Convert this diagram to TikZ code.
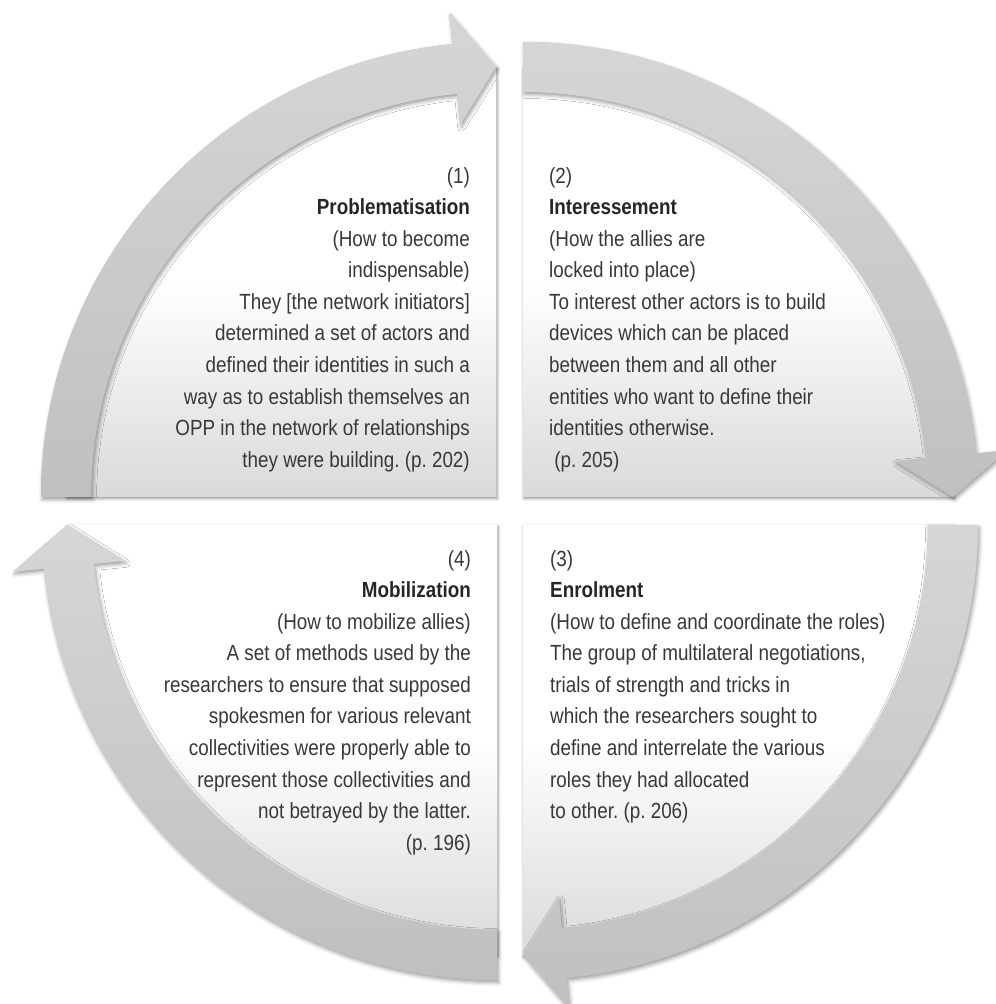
\documentclass[tikz,border=0pt]{standalone}
\usepackage{fontspec}
\setmainfont{Liberation Sans}[FakeStretch=0.86]
\usetikzlibrary{shadows.blur}

\definecolor{panelgray}{HTML}{DADADA}
\definecolor{arrowtop}{HTML}{D6D6D6}
\definecolor{arrowbot}{HTML}{C0C0C0}
\definecolor{textgray}{HTML}{383838}

% quarter-turn arrow round a corner: #1 centre, #2 start angle (runs clockwise)
\newcommand\ringarrow[2]{%
  \begin{scope}[shift={(#1)}]
    \pgfmathsetmacro\tipangle{#2-90}
    \pgfmathsetmacro\baseangle{#2-90+5.5}
    \path[arrowfill] (#2:455) arc[start angle=#2, end angle=\baseangle, radius=455]
      -- (\baseangle:486) -- (\tipangle:430) -- (\baseangle:374) -- (\baseangle:405)
      arc[start angle=\baseangle, end angle=#2, radius=405] -- cycle;
  \end{scope}}

\begin{document}
\frenchspacing
\begin{tikzpicture}[x=1bp,y=1bp,
    panel/.style={fill=white,
      blur shadow={shadow xshift=1pt, shadow yshift=-1.5pt, shadow blur radius=3pt, shadow opacity=45},
      postaction={top color=white, bottom color=panelgray, middle color=white}},
    arrowfill/.style={fill=arrowbot,
      blur shadow={shadow xshift=1.5pt, shadow yshift=-2.5pt, shadow blur radius=4pt, shadow opacity=40},
      postaction={top color=arrowtop, bottom color=arrowbot}},
    stagetext/.style={font=\fontsize{22}{31.7}\selectfont, text=textgray, inner sep=0pt}]
  \useasboundingbox (0,0) rectangle (996,1004);

  \coordinate (c1) at (496,507);
  \coordinate (c2) at (523,507);
  \coordinate (c3) at (523,479);
  \coordinate (c4) at (497,479);

  % the four quarter panels
  \path[panel] (c1) -- ++(180:430) arc[start angle=180, end angle=90, radius=430] -- cycle;
  \path[panel] (c2) -- ++(90:430) arc[start angle=90, end angle=0, radius=430] -- cycle;
  \path[panel] (c3) -- ++(0:430) arc[start angle=0, end angle=-90, radius=430] -- cycle;
  \path[panel] (c4) -- ++(-90:430) arc[start angle=-90, end angle=-180, radius=430] -- cycle;

  % ring of arrows
  \ringarrow{c1}{180}
  \ringarrow{c2}{90}
  \ringarrow{c3}{0}
  \ringarrow{c4}{-90}

  \node[stagetext, align=right, anchor=north east] (prob) at (470,837) {(1)\\
    \textbf{\color{black!85}Problematisation}\\
    (How to become\\
    indispensable)\\
    They [the network initiators]\\
    determined a set of actors and\\
    defined their identities in such a\\
    way as to establish themselves an\\
    OPP in the network of relationships\\
    they were building. (p. 202)};

  \node[stagetext, align=left, anchor=north west] (inter) at (549,837) {(2)\\
    \textbf{\color{black!85}Interessement}\\
    (How the allies are\\
    locked into place)\\
    To interest other actors is to build\\
    devices which can be placed\\
    between them and all other\\
    entities who want to define their\\
    identities otherwise.\\
    \ (p. 205)};

  \node[stagetext, align=left, anchor=north west] (enrol) at (550,454) {(3)\\
    \textbf{\color{black!85}Enrolment}\\
    (How to define and coordinate the roles)\\
    The group of multilateral negotiations,\\
    trials of strength and tricks in\\
    which the researchers sought to\\
    define and interrelate the various\\
    roles they had allocated\\
    to other. (p. 206)};

  \node[stagetext, align=right, anchor=north east] (mobil) at (471,454) {(4)\\
    \textbf{\color{black!85}Mobilization}\\
    (How to mobilize allies)\\
    A set of methods used by the\\
    researchers to ensure that supposed\\
    spokesmen for various relevant\\
    collectivities were properly able to\\
    represent those collectivities and\\
    not betrayed by the latter.\\
    (p. 196)};
\end{tikzpicture}
\end{document}
